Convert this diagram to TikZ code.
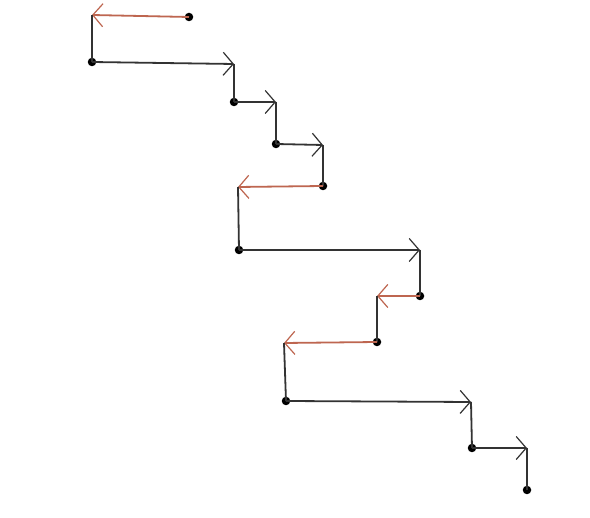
\documentclass[tikz,border=0pt]{standalone}
\usetikzlibrary{arrows.meta}
\definecolor{stepblack}{HTML}{333333}
\definecolor{stepred}{HTML}{BE6650}
\begin{document}
\begin{tikzpicture}[x=1pt,y=-1pt,
  dot/.style={circle,fill=black,inner sep=0pt,minimum size=8.5pt},
  tip/.style={-{Straight Barb[length=10pt,width=23pt,line width=1.2pt]}},
  fwd/.style={draw=stepblack,line width=1.8pt,tip},
  back/.style={draw=stepred,line width=1.8pt,tip},
  down/.style={draw=stepblack,line width=1.8pt}]
\useasboundingbox[fill=white] (0,0) rectangle (590,518);
% dots
\node[dot] (A) at (189,17) {};
\node[dot] (B) at (92,62) {};
\node[dot] (C) at (234,102) {};
\node[dot] (D) at (276,144) {};
\node[dot] (E) at (323,186) {};
\node[dot] (F) at (239,250) {};
\node[dot] (G) at (420,296) {};
\node[dot] (H) at (377,342) {};
\node[dot] (I) at (286,401) {};
\node[dot] (J) at (472,448) {};
\node[dot] (K) at (527,490) {};
% corners
\coordinate (c1) at (92,15);
\coordinate (c2) at (234,64);
\coordinate (c3) at (276,102);
\coordinate (c4) at (323,145);
\coordinate (c5) at (238,187);
\coordinate (c6) at (420,250);
\coordinate (c7) at (377,296);
\coordinate (c8) at (284,343);
\coordinate (c9) at (471,402);
\coordinate (c10) at (527,448);
% connectors
\draw[back] (A.center) -- (c1);
\draw[down] (c1) -- (B.center);
\draw[fwd] (B.center) -- (c2);
\draw[down] (c2) -- (C.center);
\draw[fwd] (C.center) -- (c3);
\draw[down] (c3) -- (D.center);
\draw[fwd] (D.center) -- (c4);
\draw[down] (c4) -- (E.center);
\draw[back] (E.center) -- (c5);
\draw[down] (c5) -- (F.center);
\draw[fwd] (F.center) -- (c6);
\draw[down] (c6) -- (G.center);
\draw[back] (G.center) -- (c7);
\draw[down] (c7) -- (H.center);
\draw[back] (H.center) -- (c8);
\draw[down] (c8) -- (I.center);
\draw[fwd] (I.center) -- (c9);
\draw[down] (c9) -- (J.center);
\draw[fwd] (J.center) -- (c10);
\draw[down] (c10) -- (K.center);
\end{tikzpicture}
\end{document}
